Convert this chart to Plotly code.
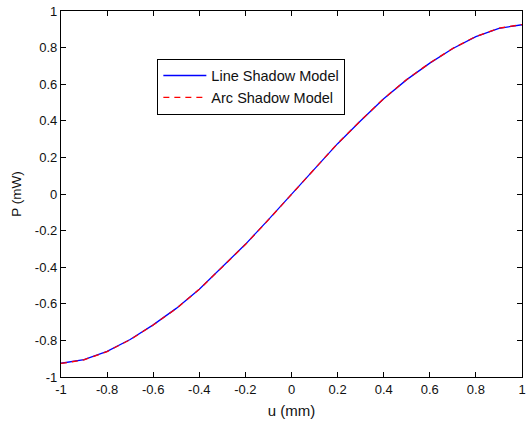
import plotly.graph_objects as go

u = [-1.0, -0.9, -0.8, -0.7, -0.6, -0.5, -0.4, -0.3, -0.2, -0.1, 0.0,
     0.1, 0.2, 0.3, 0.4, 0.5, 0.6, 0.7, 0.8, 0.9, 1.0]
p_line = [-0.925, -0.905, -0.86, -0.795, -0.715, -0.625, -0.52, -0.40, -0.275, -0.14, 0.0,
          0.14, 0.275, 0.40, 0.52, 0.625, 0.715, 0.795, 0.86, 0.905, 0.925]
p_arc = [-0.926, -0.906, -0.861, -0.796, -0.716, -0.626, -0.521, -0.401, -0.276, -0.141, 0.0,
         0.141, 0.276, 0.401, 0.521, 0.626, 0.716, 0.796, 0.861, 0.906, 0.926]
xticks = [-1, -0.8, -0.6, -0.4, -0.2, 0, 0.2, 0.4, 0.6, 0.8, 1]
yticks = [-1, -0.8, -0.6, -0.4, -0.2, 0, 0.2, 0.4, 0.6, 0.8, 1]

FAM = "Liberation Sans, Arial, sans-serif"

fig = go.Figure()
fig.add_trace(go.Scatter(x=u, y=p_line, mode="lines", name="Line Shadow Model",
                         line=dict(color="#0000ff", width=1.3)))
fig.add_trace(go.Scatter(x=u, y=p_arc, mode="lines", name="Arc Shadow Model",
                         line=dict(color="#ff0000", width=1.3, dash="6px,5px")))

tickfont = dict(family=FAM, size=13, color="#111111")
axis_common = dict(showline=True, linecolor="black", linewidth=1.3, mirror="ticks",
                   ticks="inside", ticklen=5, tickcolor="black", showgrid=False,
                   zeroline=False, tickfont=tickfont, ticklabeloverflow="allow")
fig.update_layout(
    width=529, height=425,
    margin=dict(l=61, r=3, t=11, b=48),
    paper_bgcolor="white", plot_bgcolor="white",
    font=dict(family=FAM, size=13, color="#111111"),
    showlegend=True,
    legend=dict(x=0.209, y=0.870, xanchor="left", yanchor="top",
                bordercolor="black", borderwidth=1, bgcolor="white",
                font=dict(family=FAM, size=14.5, color="#111111"),
                itemwidth=43, tracegroupgap=0),
    xaxis=dict(range=[-1, 1], tickvals=xticks,
               ticktext=[("%g" % v) for v in xticks],
               title=dict(text="u (mm)", font=dict(size=15, family=FAM, color="#111111"), standoff=9),
               **axis_common),
    yaxis=dict(range=[-1, 1], tickvals=yticks,
               ticktext=[("%g" % v) for v in yticks],
               title=dict(text="P (mW)", font=dict(size=13.5, family=FAM, color="#111111"), standoff=10),
               **axis_common),
)
fig.write_html("out.html")
